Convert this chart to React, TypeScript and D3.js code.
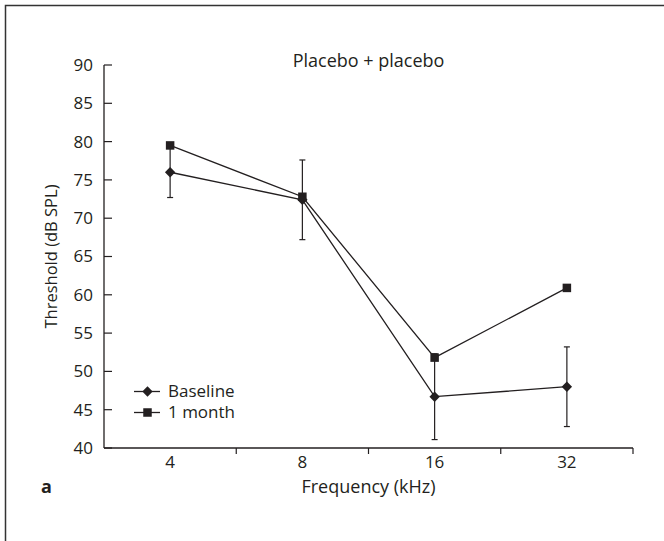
import React from "react";
import * as d3 from "d3";

const categories = ["4", "8", "16", "32"];
const baseline = [76.0, 72.4, 46.7, 48.0];
const baselineErr = [3.3, 5.2, 5.6, 5.2];
const oneMonth = [79.5, 72.8, 51.8, 60.9];
const yTicks = [40, 45, 50, 55, 60, 65, 70, 75, 80, 85, 90];
const seriesNames = ["Baseline", "1 month"];

const W = 664;
const H = 541;
const left = 104;
const right = 633;
const top = 65;
const bottom = 448;
const ink = "#231f20";
const font = "'Open Sans', sans-serif";
const fs = 17;

export default function App() {
  const x = d3.scaleBand<string>().domain(categories).range([left, right]);
  const y = d3.scaleLinear().domain([40, 90]).range([bottom, top]);
  const cx = (c: string) => (x(c) as number) + x.bandwidth() / 2;
  const line = d3
    .line<number>()
    .x((_, i) => cx(categories[i]))
    .y((d) => y(d));
  const diamond = (px: number, py: number, r = 5.2) =>
    `M${px},${py - r}L${px + r},${py}L${px},${py + r}L${px - r},${py}Z`;
  const sq = 8.5;
  const boundaries = categories.map((c) => (x(c) as number) + x.bandwidth());

  return (
    <svg
      width={W}
      height={H}
      style={{ position: "absolute", left: 0, top: 0, display: "block", background: "#fff" }}
      fontFamily={font}
    >
      {/* frame */}
      <path d={`M5.5,${H + 5}V5.5H${W + 5}`} fill="none" stroke="#333" strokeWidth={1.5} />

      {/* y axis */}
      <line x1={left} x2={left} y1={top} y2={bottom} stroke={ink} strokeWidth={1.3} />
      {yTicks.map((t) => (
        <g key={t}>
          <line x1={left} x2={left + 8} y1={y(t)} y2={y(t)} stroke={ink} strokeWidth={1.2} />
          <text x={left - 11} y={y(t)} dy="0.35em" textAnchor="end" fontSize={fs} fill={ink}>
            {t}
          </text>
        </g>
      ))}

      {/* x axis */}
      <line x1={left} x2={right} y1={bottom} y2={bottom} stroke={ink} strokeWidth={1.3} />
      {boundaries.map((b, i) => (
        <line key={i} x1={b} x2={b} y1={bottom} y2={bottom + 6} stroke={ink} strokeWidth={1.2} />
      ))}
      {categories.map((c) => (
        <text key={c} x={cx(c)} y={bottom + 19.5} textAnchor="middle" fontSize={fs} fill={ink}>
          {c}
        </text>
      ))}

      {/* titles */}
      <text x={(left + right) / 2} y={67} textAnchor="middle" fontSize={18} fill={ink}>
        Placebo + placebo
      </text>
      <text
        transform={`translate(57,${(top + bottom) / 2}) rotate(-90)`}
        textAnchor="middle"
        fontSize={16.5}
        fill={ink}
      >
        Threshold (dB SPL)
      </text>
      <text x={(left + right) / 2} y={493} textAnchor="middle" fontSize={18} fill={ink}>
        Frequency (kHz)
      </text>
      <text x={41} y={493} fontSize={18} fontWeight="bold" fill={ink}>
        a
      </text>

      {/* error bars (baseline) */}
      {baseline.map((v, i) => {
        const px = cx(categories[i]);
        const e = baselineErr[i];
        return (
          <g key={i} stroke={ink} strokeWidth={1.2}>
            <line x1={px} x2={px} y1={y(v + e)} y2={y(v - e)} />
            <line x1={px - 3} x2={px + 3} y1={y(v + e)} y2={y(v + e)} />
            <line x1={px - 3} x2={px + 3} y1={y(v - e)} y2={y(v - e)} />
          </g>
        );
      })}

      {/* lines */}
      <path d={line(baseline) as string} fill="none" stroke={ink} strokeWidth={1.3} />
      <path d={line(oneMonth) as string} fill="none" stroke={ink} strokeWidth={1.3} />

      {/* markers */}
      {oneMonth.map((v, i) => (
        <rect key={i} x={cx(categories[i]) - sq / 2} y={y(v) - sq / 2} width={sq} height={sq} fill={ink} />
      ))}
      {baseline.map((v, i) => (
        <path key={i} d={diamond(cx(categories[i]), y(v))} fill={ink} />
      ))}

      {/* legend */}
      <g>
        <line x1={134} x2={160} y1={391.5} y2={391.5} stroke={ink} strokeWidth={1.3} />
        <path d={diamond(147.5, 391.5)} fill={ink} />
        <text x={168} y={391.5} dy="0.35em" fontSize={fs} fill={ink}>
          {seriesNames[0]}
        </text>
        <line x1={134} x2={160} y1={412.5} y2={412.5} stroke={ink} strokeWidth={1.3} />
        <rect x={147.5 - sq / 2} y={412.5 - sq / 2} width={sq} height={sq} fill={ink} />
        <text x={168} y={412.5} dy="0.35em" fontSize={fs} fill={ink}>
          {seriesNames[1]}
        </text>
      </g>
    </svg>
  );
}
